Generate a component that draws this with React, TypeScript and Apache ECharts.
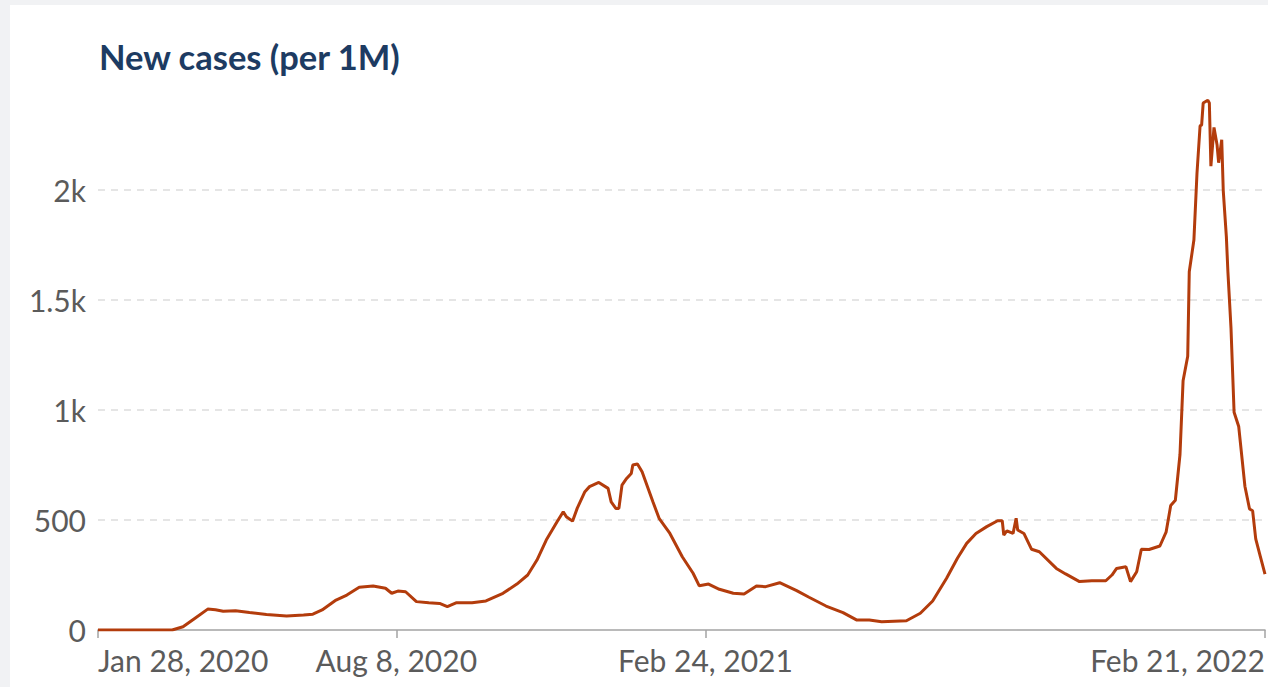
import React, { useEffect, useRef } from "react";
import * as echarts from "echarts";

const dates = [
  "2020-01-28", "2020-03-16", "2020-03-23", "2020-03-31", "2020-04-08", "2020-04-13", "2020-04-18", "2020-04-26",
  "2020-05-05", "2020-05-16", "2020-05-29", "2020-06-09", "2020-06-15", "2020-06-21", "2020-06-30", "2020-07-07",
  "2020-07-15", "2020-07-24", "2020-08-01", "2020-08-05", "2020-08-09", "2020-08-14", "2020-08-21", "2020-08-29",
  "2020-09-05", "2020-09-10", "2020-09-16", "2020-09-26", "2020-10-05", "2020-10-16", "2020-10-25", "2020-11-01",
  "2020-11-07", "2020-11-13", "2020-11-20", "2020-11-24", "2020-11-26", "2020-11-30", "2020-12-03", "2020-12-08",
  "2020-12-11", "2020-12-17", "2020-12-23", "2020-12-25", "2020-12-28", "2020-12-30", "2021-01-01", "2021-01-04",
  "2021-01-07", "2021-01-08", "2021-01-11", "2021-01-14", "2021-01-21", "2021-01-25", "2021-02-01", "2021-02-09",
  "2021-02-16", "2021-02-20", "2021-02-26", "2021-03-05", "2021-03-14", "2021-03-21", "2021-03-29", "2021-04-04",
  "2021-04-13", "2021-04-24", "2021-05-02", "2021-05-13", "2021-05-24", "2021-06-02", "2021-06-10", "2021-06-18",
  "2021-07-04", "2021-07-13", "2021-07-21", "2021-07-30", "2021-08-06", "2021-08-12", "2021-08-18", "2021-08-25",
  "2021-09-01", "2021-09-04", "2021-09-05", "2021-09-07", "2021-09-11", "2021-09-13", "2021-09-14", "2021-09-18",
  "2021-09-23", "2021-09-28", "2021-10-09", "2021-10-15", "2021-10-24", "2021-11-01", "2021-11-10", "2021-11-14",
  "2021-11-17", "2021-11-23", "2021-11-26", "2021-11-30", "2021-12-03", "2021-12-08", "2021-12-15", "2021-12-19",
  "2021-12-22", "2021-12-25", "2021-12-28", "2021-12-30", "2022-01-02", "2022-01-03", "2022-01-06", "2022-01-08",
  "2022-01-10", "2022-01-11", "2022-01-12", "2022-01-15", "2022-01-16", "2022-01-17", "2022-01-19", "2022-01-21",
  "2022-01-22", "2022-01-24", "2022-01-25", "2022-01-27", "2022-01-28", "2022-01-30", "2022-02-01", "2022-02-04",
  "2022-02-08", "2022-02-11", "2022-02-13", "2022-02-15", "2022-02-18", "2022-02-21",
];

const values = [
  0, 0, 15, 55, 95, 92, 85, 88,
  80, 71, 64, 68, 72, 91, 136, 159,
  194, 200, 190, 167, 177, 174, 129, 124,
  121, 106, 124, 124, 132, 167, 209, 250,
  318, 409, 492, 538, 515, 495, 553, 629,
  652, 671, 644, 583, 553, 553, 659, 689,
  712, 750, 755, 720, 583, 508, 439, 333,
  258, 201, 209, 185, 167, 164, 200, 197,
  215, 179, 149, 109, 79, 45, 45, 38,
  42, 76, 132, 235, 326, 394, 439, 470,
  497, 497, 432, 451, 439, 508, 455, 439,
  367, 356, 280, 255, 220, 224, 224, 250,
  280, 288, 220, 265, 367, 366, 382, 445,
  566, 590, 798, 1133, 1245, 1629, 1773, 2077,
  2293, 2296, 2396, 2409, 2396, 2109, 2285, 2205,
  2125, 2229, 1997, 1789, 1629, 1373, 990, 925,
  654, 550, 542, 414, 334, 254,
];

const xTickDates = ["2020-01-28", "2020-08-08", "2021-02-24", "2022-02-21"];
const xTickLabels = ["Jan 28, 2020", "Aug 8, 2020", "Feb 24, 2021", "Feb 21, 2022"];
const yTickValues = [0, 500, 1000, 1500, 2000];
const yTickLabels = ["0", "500", "1k", "1.5k", "2k"];
const title = "New cases (per 1M)";

function toTs(s: string): number {
  const [y, m, d] = s.split("-").map(Number);
  return new Date(y, m - 1, d).getTime();
}

export default function App() {
  const ref = useRef<HTMLDivElement>(null);

  useEffect(() => {
    if (!ref.current) return;
    const chart = echarts.init(ref.current, null, { renderer: "svg" });
    const xTicks = xTickDates.map(toTs);
    const data = dates.map((d, i) => [toTs(d), values[i]]);
    const textColor = "#5b5b5b";
    const font = "Lato, 'Noto Sans', sans-serif";

    chart.setOption({
      animation: false,
      backgroundColor: "#ffffff",
      title: {
        text: title,
        left: 89,
        top: 34,
        padding: 0,
        textStyle: {
          fontFamily: font,
          fontSize: 34.5,
          fontWeight: 700,
          color: "#1d3b62",
        },
      },
      grid: { left: 88, right: 3, top: 95, bottom: 57, containLabel: false },
      xAxis: {
        type: "value",
        min: xTicks[0],
        max: xTicks[xTicks.length - 1],
        axisLine: { show: true, onZero: false, lineStyle: { color: "#a3a3a3", width: 1.5 } },
        axisTick: {
          show: true,
          length: 8,
          customValues: xTicks,
          lineStyle: { color: "#a3a3a3", width: 1.5 },
        },
        axisLabel: {
          customValues: xTicks,
          alignMinLabel: "left",
          alignMaxLabel: "right",
          showMinLabel: true,
          showMaxLabel: true,
          margin: 15,
          fontFamily: font,
          fontSize: 30,
          color: textColor,
          formatter: (v: number) => {
            const i = xTicks.indexOf(v);
            return i >= 0 ? xTickLabels[i] : "";
          },
        },
        splitLine: { show: false },
      },
      yAxis: {
        type: "value",
        min: 0,
        max: 2410,
        interval: 500,
        axisLine: { show: false },
        axisTick: { show: false },
        axisLabel: {
          customValues: yTickValues,
          margin: 12,
          fontFamily: font,
          fontSize: 30,
          color: textColor,
          formatter: (v: number) => {
            const i = yTickValues.indexOf(v);
            return i >= 0 ? yTickLabels[i] : "";
          },
        },
        splitLine: {
          show: true,
          showMinLine: false,
          showMaxLine: false,
          lineStyle: { color: "#dddddd", type: [7, 6], width: 1.5 },
        },
      },
      series: [
        {
          type: "line",
          data,
          showSymbol: false,
          symbol: "none",
          lineStyle: { color: "#b33c0c", width: 3 },
          itemStyle: { color: "#b33c0c" },
        },
      ],
    });

    return () => chart.dispose();
  }, []);

  return (
    <div
      style={{
        position: "fixed",
        left: 0,
        top: 0,
        width: 1268,
        height: 687,
        background: "#f1f2f4",
      }}
    >
      <div
        ref={ref}
        style={{
          position: "absolute",
          left: 10,
          top: 5,
          width: 1258,
          height: 682,
          background: "#ffffff",
        }}
      />
    </div>
  );
}
